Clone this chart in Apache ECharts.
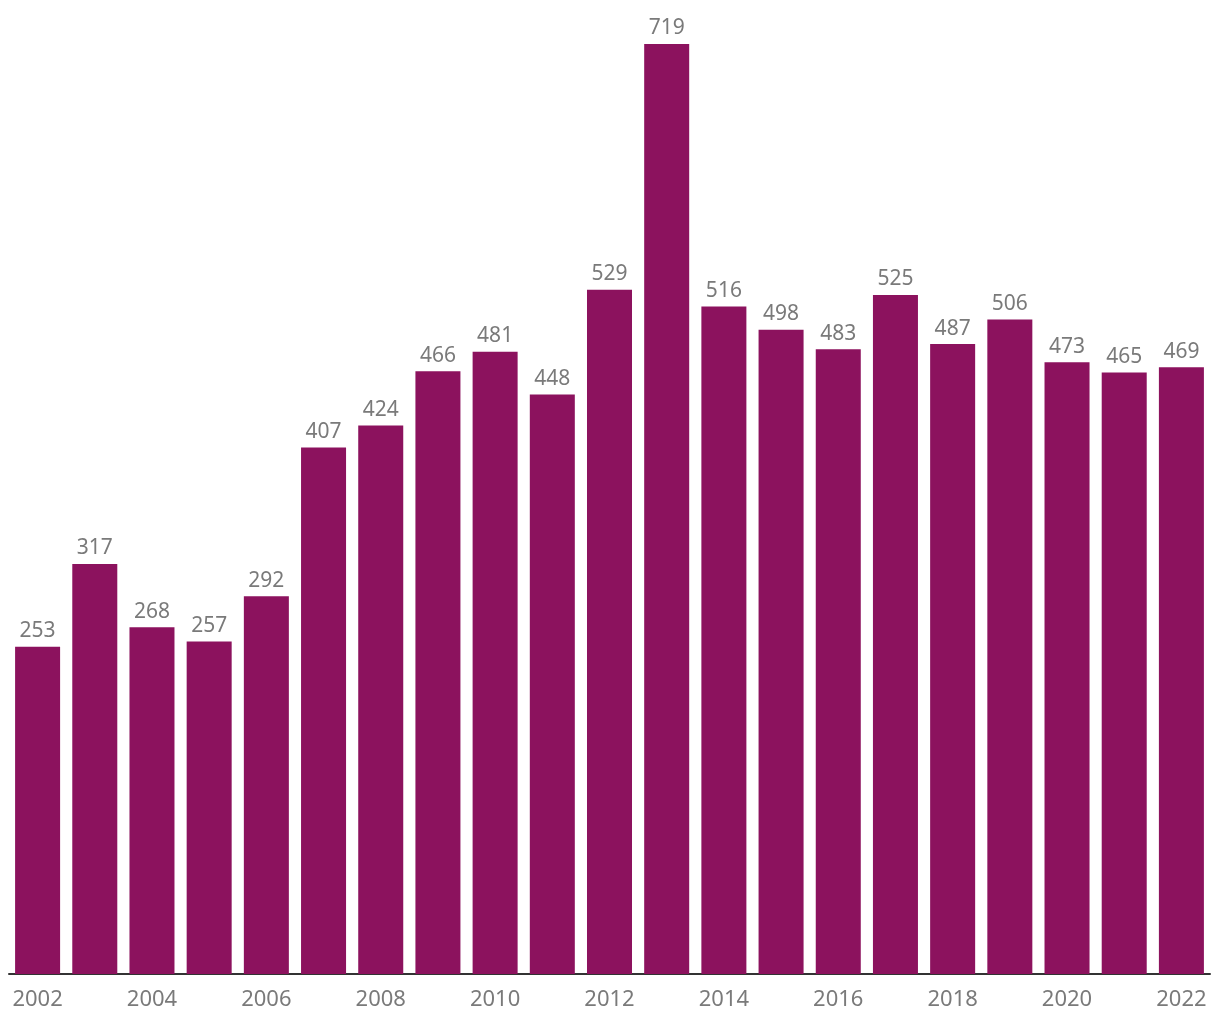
<!DOCTYPE html>
<html><head><meta charset="utf-8">
<script src="https://cdn.jsdelivr.net/npm/echarts@6/dist/echarts.min.js"></script>
<style>html,body{margin:0;padding:0;background:#fff}#c{width:1220px;height:1020px}</style>
</head><body><div id="c"></div>
<script>
const years = ['2002','2003','2004','2005','2006','2007','2008','2009','2010','2011','2012','2013','2014','2015','2016','2017','2018','2019','2020','2021','2022'];
const values = [253,317,268,257,292,407,424,466,481,448,529,719,516,498,483,525,487,506,473,465,469];
const chart = echarts.init(document.getElementById('c'));
chart.setOption({
  animation: false,
  grid: {left: 9, right: 10, top: 44, bottom: 46},
  xAxis: {
    type: 'category', data: years,
    axisLine: {lineStyle: {color: '#333', width: 2}},
    axisTick: {show: false},
    axisLabel: {interval: 1, color: '#7a7a7a', fontSize: 22, fontFamily: 'Noto Sans', margin: 15}
  },
  yAxis: {type: 'value', min: 0, max: 719, show: false, splitLine: {show: false}},
  series: [{
    type: 'bar', data: values, barCategoryGap: '21.3%',
    itemStyle: {color: '#8c125e'},
    label: {show: true, position: 'top', distance: 5, color: '#7a7a7a', fontSize: 21, fontFamily: 'Noto Sans'}
  }]
});
</script></body></html>
